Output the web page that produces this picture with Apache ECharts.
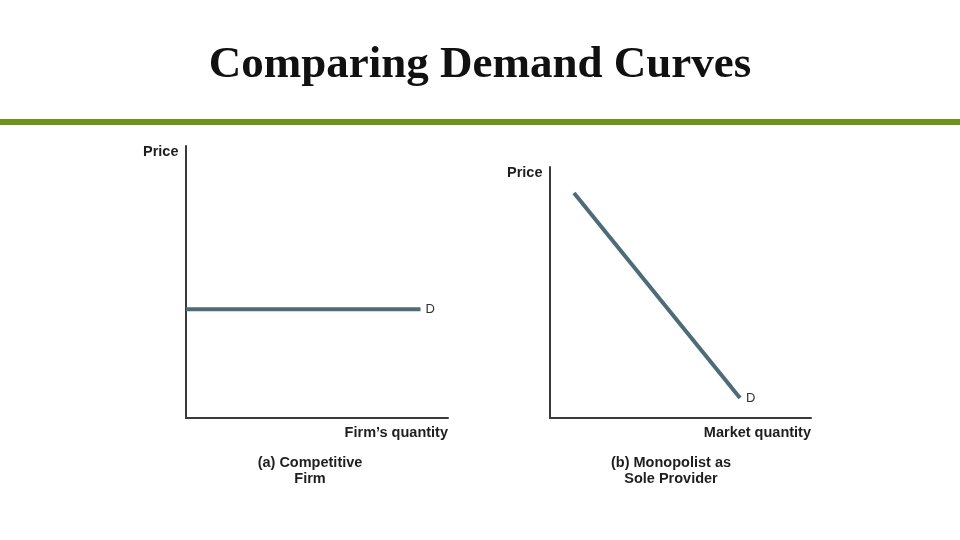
<!DOCTYPE html>
<html><head><meta charset="utf-8">
<script src="https://cdn.jsdelivr.net/npm/echarts@6/dist/echarts.min.js"></script>
<style>html,body{margin:0;padding:0;background:#fff}#c{width:960px;height:540px}</style>
</head><body><div id="c"></div>
<script>
const titleText = "Comparing Demand Curves";
const panelCaptions = ["(a) Competitive\nFirm", "(b) Monopolist as\nSole Provider"];
const xAxisNames = ["Firm\u2019s quantity", "Market quantity"];
const yAxisNames = ["Price", "Price"];
const demandAQty = [0, 8.95];
const demandAPrice = [4.0, 4.0];
const demandBQty = [0.92, 7.28];
const demandBPrice = [8.96, 0.8];
const curveLabel = "D";

const lineColor = "#4e6b78";
const axisColor = "#3a3a3a";
const sans = "'Liberation Sans', Arial, sans-serif";

function pts(xs, ys){ return xs.map((x,i)=>[x, ys[i]]); }

const chart = echarts.init(document.getElementById('c'));
const axisCommon = {
  type: 'value', min: 0, max: 10,
  axisLine: { show: true, onZero: false, lineStyle: { color: axisColor, width: 2 } },
  axisTick: { show: false }, axisLabel: { show: false }, splitLine: { show: false }
};
function series(idx, data, offset){
  return {
    type: 'line', xAxisIndex: idx, yAxisIndex: idx, data: data, symbol: 'none',
    lineStyle: { color: lineColor, width: 4 },
    endLabel: { show: true, formatter: curveLabel, color: '#333', fontSize: 13,
      fontFamily: sans, offset: offset },
    animation: false
  };
}
function label(text, x, y, align, extra){
  return {
    type: 'text', x: x, y: y, z: 10,
    style: Object.assign({ text: text, align: align, verticalAlign: 'middle',
      font: "bold 14.5px " + sans, fill: '#1e1e1e' }, extra || {})
  };
}
chart.setOption({
  animation: false,
  graphic: [
    { type: 'text', x: 480, y: 65, style: { text: titleText, align: 'center', verticalAlign: 'middle',
      font: "bold 45px 'Liberation Serif', 'Times New Roman', serif", fill: '#111' } },
    { type: 'rect', x: 0, y: 119, shape: { width: 960, height: 6 }, style: { fill: '#6b9419' } },
    label(yAxisNames[0], 143, 152, 'left'),
    label(yAxisNames[1], 507, 173, 'left'),
    label(xAxisNames[0], 448, 433, 'right'),
    label(xAxisNames[1], 811, 433, 'right'),
    label(panelCaptions[0], 310, 471, 'center', { lineHeight: 16 }),
    label(panelCaptions[1], 671, 471, 'center', { lineHeight: 16 })
  ],
  grid: [
    { left: 186, right: 512, top: 146, bottom: 122 },
    { left: 550, right: 149, top: 167, bottom: 122 }
  ],
  xAxis: [ Object.assign({ gridIndex: 0 }, axisCommon), Object.assign({ gridIndex: 1 }, axisCommon) ],
  yAxis: [ Object.assign({ gridIndex: 0 }, axisCommon), Object.assign({ gridIndex: 1 }, axisCommon) ],
  series: [
    series(0, pts(demandAQty, demandAPrice), [-3, 0]),
    series(1, pts(demandBQty, demandBPrice), [-2, 1])
  ]
});
</script></body></html>
